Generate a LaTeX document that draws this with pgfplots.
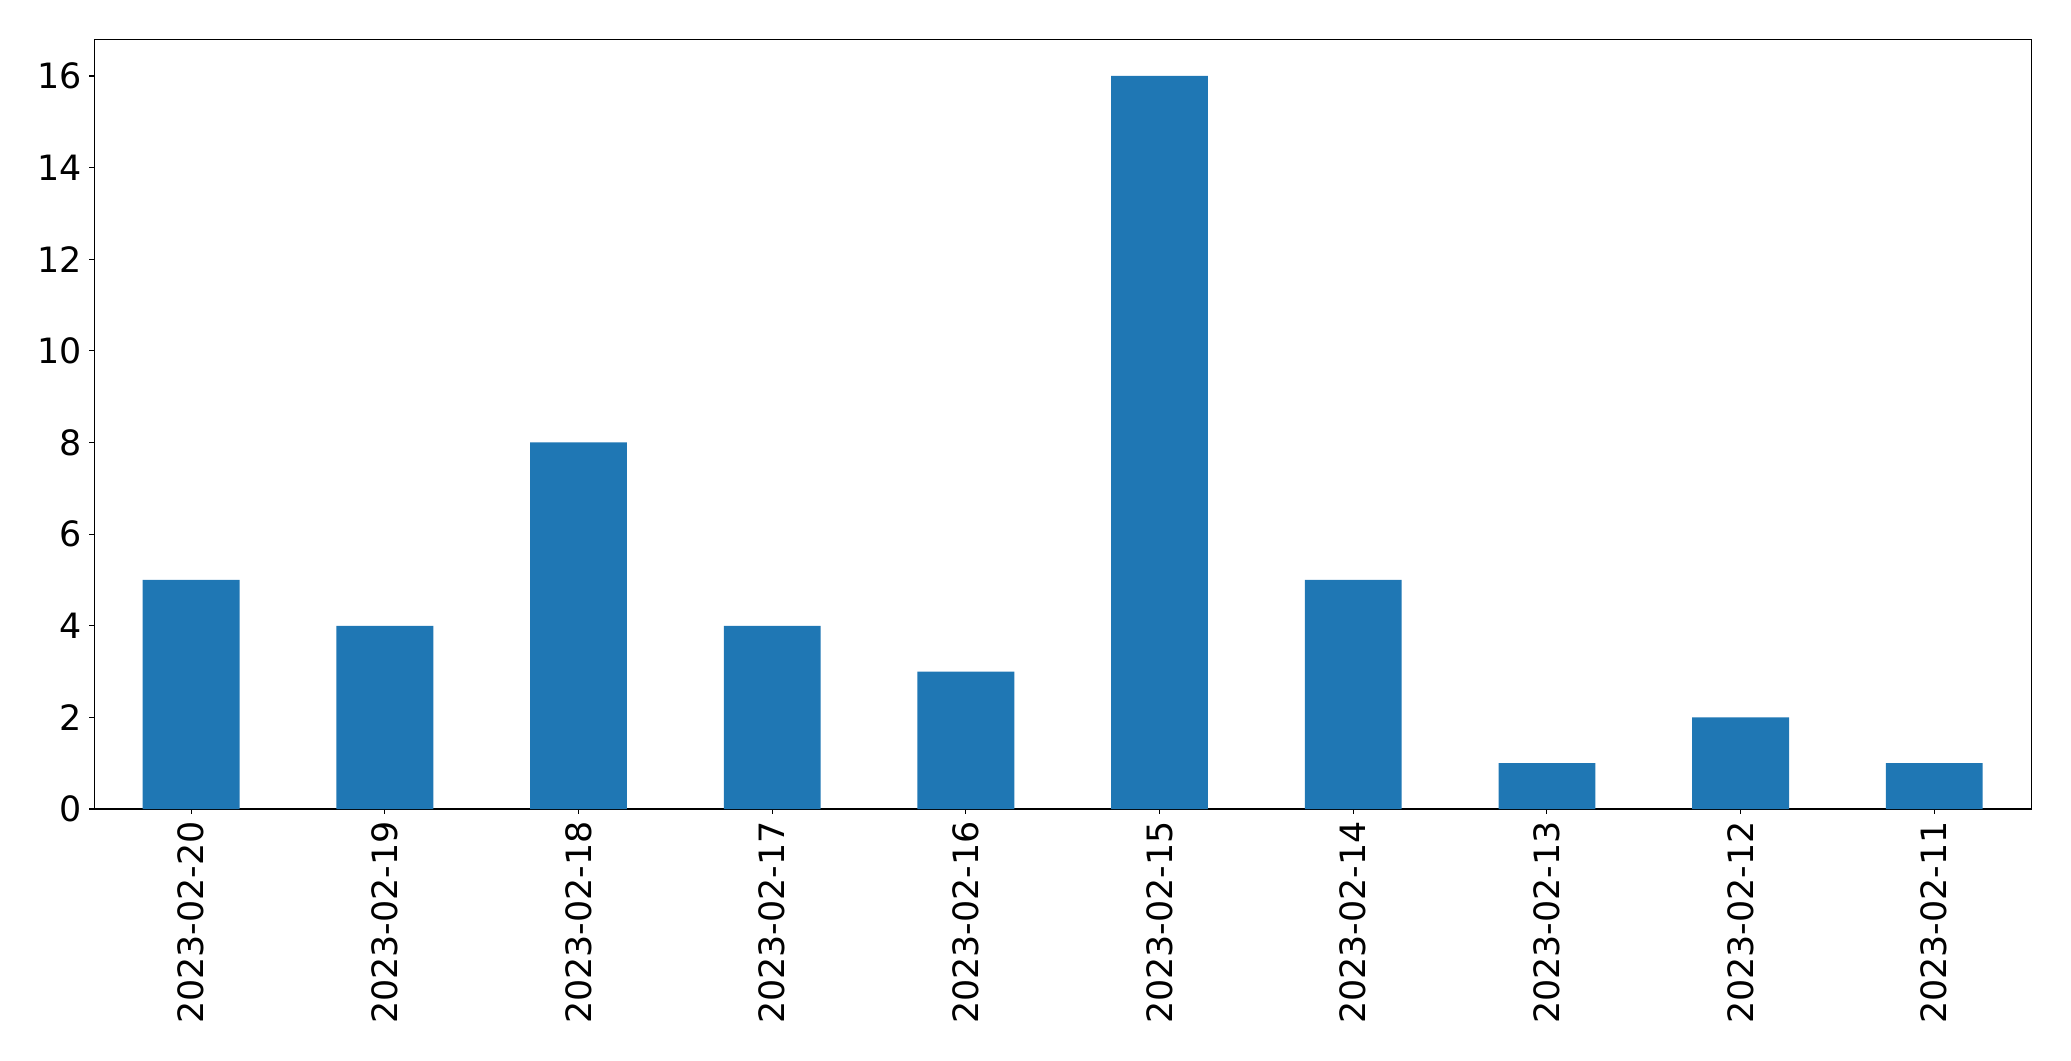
\documentclass[border=0pt]{standalone}
\usepackage{fontspec}
\setmainfont{DejaVu Sans}
\usepackage{pgfplots}
\pgfplotsset{compat=1.18}
\definecolor{mplblue}{HTML}{1F77B4}
\begin{document}
\begin{tikzpicture}[x=1bp,y=1bp]
\path[use as bounding box] (-67.9,-181.4) rectangle (1394.4+28.8,554.2+28.3);
\begin{axis}[
  at={(0,0)}, anchor=south west,
  scale only axis, width=1394.4bp, height=554.2bp,
  xmin=-0.5, xmax=9.5, ymin=0, ymax=16.8,
  xtick={0,...,9},
  xticklabels={2023-02-20,2023-02-19,2023-02-18,2023-02-17,2023-02-16,2023-02-15,2023-02-14,2023-02-13,2023-02-12,2023-02-11},
  ytick={0,2,...,16},
  tick align=outside, tick pos=left,
  major tick length=3.5bp,
  every tick/.style={black, line width=0.8bp},
  axis line style={line width=0.8bp},
  /pgf/number format/assume math mode=true,
  tick label style={font=\fontsize{25.2}{30}\selectfont, inner sep=0pt},
  xticklabel style={rotate=90, anchor=east},
  xticklabel shift=5bp,
  yticklabel shift=5.5bp,
  ybar, bar width=0.5,
]
\addplot[fill=mplblue, draw=none, bar shift=0pt] coordinates {
(0,5) (1,4) (2,8) (3,4) (4,3) (5,16) (6,5) (7,1) (8,2) (9,1)
};
\end{axis}
\end{tikzpicture}
\end{document}
